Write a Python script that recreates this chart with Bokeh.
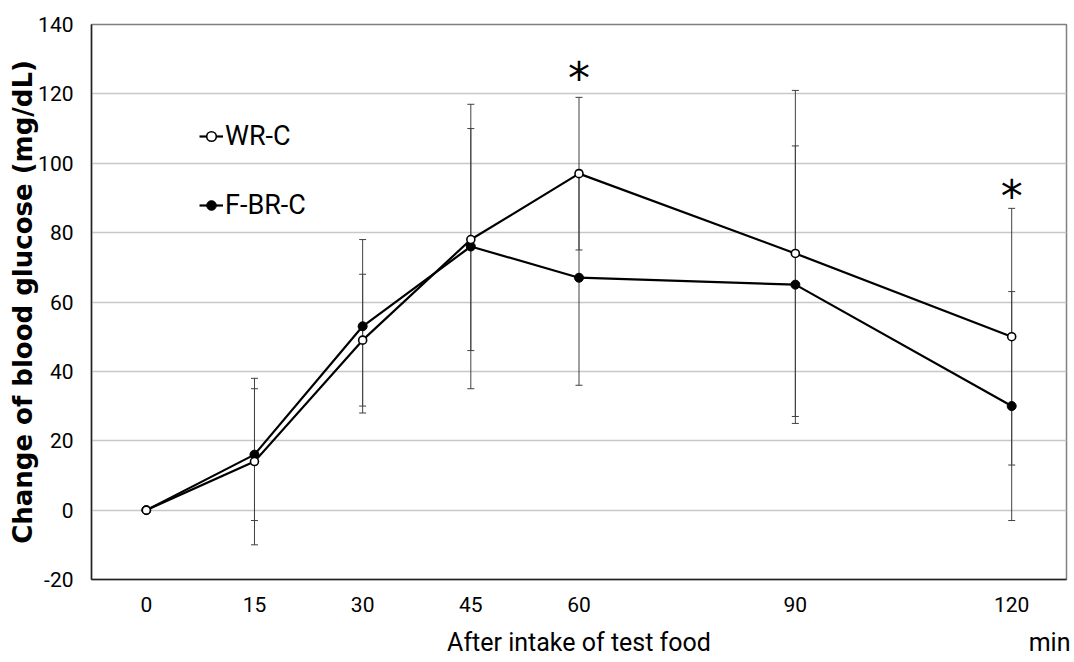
from bokeh.plotting import figure
from bokeh.models import (Range1d, FixedTicker, Whisker, TeeHead, ColumnDataSource,
                          Legend, LegendItem, LinearAxis)
from bokeh.core.properties import value
from bokeh.embed import file_html
from bokeh.resources import INLINE

# ---- data ----
times = [0, 15, 30, 45, 60, 90, 120]
wr_mean = [0, 14, 49, 78, 97, 74, 50]
wr_sd = [0, 24, 19, 32, 22, 47, 37]
fbr_mean = [0, 16, 53, 76, 67, 65, 30]
fbr_sd = [0, 19, 25, 41, 31, 40, 33]
sig_times = [60, 120]
sig_y = [127, 93]
y_ticks = [-20, 0, 20, 40, 60, 80, 100, 120, 140]
x_title = "After intake of test food"
x_unit = "min"
y_title = "Change of blood glucose (mg/dL)"

FONT = "Roboto"

wr_src = ColumnDataSource(dict(t=times, m=wr_mean,
                               up=[m + s for m, s in zip(wr_mean, wr_sd)],
                               lo=[m - s for m, s in zip(wr_mean, wr_sd)]))
fbr_src = ColumnDataSource(dict(t=times, m=fbr_mean,
                                up=[m + s for m, s in zip(fbr_mean, fbr_sd)],
                                lo=[m - s for m, s in zip(fbr_mean, fbr_sd)]))

p = figure(width=1070, height=660, x_range=Range1d(-7.6, 127.6), y_range=Range1d(-20, 140),
           output_backend="svg", toolbar_location=None,
           min_border_left=91, min_border_right=4, min_border_top=24, min_border_bottom=81)

p.outline_line_color = "#808080"
p.outline_line_width = 1.5
p.xgrid.grid_line_color = None
p.ygrid.grid_line_color = "#c8c8c8"
p.ygrid.grid_line_width = 1.5

# axes
xax = p.xaxis[0]
yax = p.yaxis[0]
xax.ticker = FixedTicker(ticks=times)
yax.ticker = FixedTicker(ticks=y_ticks)
yax.major_label_overrides = {v: str(v) for v in y_ticks}
for ax in (xax, yax):
    ax.major_tick_line_color = None
    ax.minor_tick_line_color = None
    ax.axis_line_color = "#222222"
    ax.axis_line_width = 1.5
    ax.major_label_text_font = FONT
    ax.major_label_text_font_size = "21px"
    ax.major_label_text_color = "black"
yax.major_label_standoff = 12
xax.major_label_standoff = 11

yax.axis_label = y_title
yax.axis_label_text_font = "DejaVu Sans"
yax.axis_label_text_font_size = "26px"
yax.axis_label_text_font_style = "bold"
yax.axis_label_text_color = "black"
yax.axis_label_standoff = -3

# second row below the tick labels: axis title (centred) and unit (right)
title_axis = LinearAxis(ticker=FixedTicker(ticks=[60, 125.5]),
                        major_label_overrides={60: x_title, 125.5: x_unit},
                        axis_line_color=None, major_tick_line_color=None,
                        minor_tick_line_color=None, major_label_standoff=7,
                        major_label_text_font=FONT, major_label_text_font_size="25px",
                        major_label_text_color="black")
p.add_layout(title_axis, "below")

# error bars
for src in (wr_src, fbr_src):
    w = Whisker(base="t", upper="up", lower="lo", source=src,
                line_color="#404040", line_width=1,
                upper_head=TeeHead(size=7, line_color="#404040", line_width=1),
                lower_head=TeeHead(size=7, line_color="#404040", line_width=1))
    p.add_layout(w)

# lines & markers
fbr_line = p.line("t", "m", source=fbr_src, line_color="black", line_width=2.2)
wr_line = p.line("t", "m", source=wr_src, line_color="black", line_width=2.2)
fbr_pts = p.scatter("t", "m", source=fbr_src, size=9, marker="circle",
                    fill_color="black", line_color="black")
wr_pts = p.scatter("t", "m", source=wr_src, size=8, marker="circle",
                   fill_color="white", line_color="black", line_width=1.6)

# significance marks
p.text(x=sig_times, y=sig_y, text=["*"] * len(sig_times), text_font=value("DejaVu Sans"),
       text_font_size="44px", text_align="center", text_baseline="alphabetic",
       y_offset=9, text_color="black")

legend = Legend(items=[LegendItem(label="WR-C", renderers=[wr_line, wr_pts]),
                       LegendItem(label="F-BR-C", renderers=[fbr_line, fbr_pts])],
                location=(108, 358), orientation="vertical",
                glyph_width=24, glyph_height=30, label_height=30, label_standoff=2,
                spacing=37, padding=0, margin=0,
                label_text_font=FONT, label_text_font_size="27px",
                label_text_color="black",
                border_line_color=None, background_fill_alpha=0)
p.add_layout(legend)

open("out.html", "w").write(file_html(p, INLINE))
